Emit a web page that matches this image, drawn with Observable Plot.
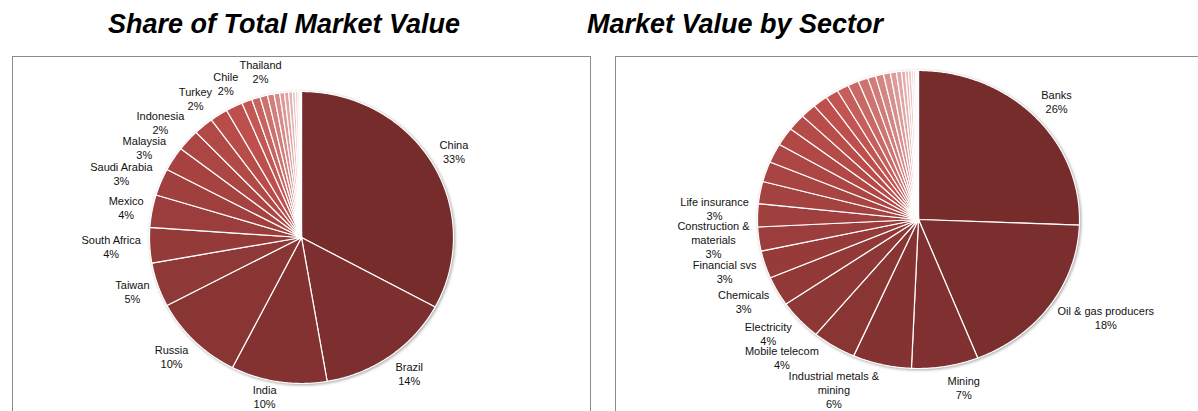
<!DOCTYPE html>
<html><head><meta charset="utf-8">
<script src="https://cdn.jsdelivr.net/npm/d3@7"></script>
<script src="https://cdn.jsdelivr.net/npm/@observablehq/plot@0.6"></script>
<style>
html,body{margin:0;padding:0;background:#fff;overflow:hidden;width:1198px;height:411px}
#root{position:relative;width:1198px;height:411px;overflow:hidden}
.title{position:absolute;top:11px;font:italic bold 27px "Liberation Sans",Arial,sans-serif;line-height:27px;color:#000;white-space:nowrap;transform:translateX(-50%)}
.panel{position:absolute;top:56px;height:420px;border:1px solid #8a8a8a;box-sizing:border-box;overflow:hidden;background:#fff}
.panel svg{position:absolute;left:0;top:0}
</style></head><body>
<div id="root">
  <div class="title" style="left:284px">Share of Total Market Value</div>
  <div class="title" style="left:735px">Market Value by Sector</div>
  <div class="panel" id="pL" style="left:12px;width:579px"></div>
  <div class="panel" id="pR" style="left:615px;width:600px"></div>
</div>
<script>
// ---- data: share of total market value by country (%), labelled slices ----
const countries = ["China","Brazil","India","Russia","Taiwan","South Africa","Mexico","Saudi Arabia","Malaysia","Indonesia","Turkey","Chile","Thailand"];
const countryShares = [32.9,14.4,10.2,9.8,4.9,3.9,3.6,3.0,2.7,2.4,2.1,1.9,1.8];
// unlabelled smaller markets
const countryTailShares = [1.1,0.9,0.8,0.7,0.6,0.5,0.45,0.4,0.3,0.25,0.2,0.1,0.1];

// ---- data: market value by sector (%), labelled slices ----
const sectors = ["Banks","Oil & gas producers","Mining","Industrial metals & mining","Mobile telecom","Electricity","Chemicals","Financial svs","Construction & materials","Life insurance"];
const sectorShares = [25.6,18.4,6.7,5.9,4.4,4.4,3.2,3.0,2.6,2.5];
// unlabelled smaller sectors
const sectorTailShares = [2.4,2.2,2.1,2.0,1.8,1.6,1.5,1.3,1.2,1.1,1.0,0.8,0.8,0.7,0.6,0.5,0.4,0.3,0.3,0.2,0.2,0.1,0.1,0.1];

const FONT = '"Liberation Sans", Arial, sans-serif';
const canvas = document.createElement("canvas");
const ctx = canvas.getContext("2d");
ctx.font = "11px " + FONT;
const measure = s => ctx.measureText(s).width;
const LINE = 14;

function wrap(text, maxW) {
  const words = text.split(" ");
  const lines = [];
  let cur = "";
  for (const w of words) {
    const t = cur ? cur + " " + w : w;
    if (cur && measure(t) > maxW) { lines.push(cur); cur = w; } else cur = t;
  }
  if (cur) lines.push(cur);
  return lines;
}

function colorAt(t) {
  return t < 0.5 ? d3.interpolateRgb("#772c2c", "#c0504d")(t / 0.5)
                 : d3.interpolateRgb("#c0504d", "#fdf3f3")((t - 0.5) / 0.5);
}

function placeBox(theta, w, h, g) {
  const s = Math.sin(theta), c = Math.cos(theta);
  const ax = g.cx + 1.05 * g.rx * s, ay = g.cy - 1.05 * g.ry * c;
  const bx = ax + Math.sign(s) * (w / 2 + 1);
  const by = Math.min(ay - c * h / 2, g.visibleBottom - h / 2 + 3);
  return {bx, by, x0: bx - w / 2, x1: bx + w / 2, y0: by - h / 2 + 2, y1: by + h / 2 - 2};
}
const overlaps = (a, b) => a.x0 < b.x1 && b.x0 < a.x1 && a.y0 < b.y1 && b.y0 < a.y1;

function pie(el, names, values, tail, geom) {
  const all = values.concat(tail);
  const total = d3.sum(all);
  const n = all.length;
  const rows = [];
  const pending = [];
  let acc = 0;
  all.forEach((v, i) => {
    const a0 = acc / total * 2 * Math.PI, a1 = (acc + v) / total * 2 * Math.PI;
    acc += v;
    const c = colorAt(i / (n - 1));
    const steps = Math.max(2, Math.ceil((a1 - a0) / (Math.PI / 360)));
    rows.push({k: i, x: 0, y: 0, c});
    for (let j = 0; j <= steps; j++) {
      const a = a0 + (a1 - a0) * j / steps;
      rows.push({k: i, x: Math.sin(a), y: Math.cos(a), c});
    }
    rows.push({k: i, x: 0, y: 0, c});
    if (i < names.length) {
      const lines = wrap(names[i], 105).concat([d3.format(".0%")(v / total)]);
      pending.push({theta: (a0 + a1) / 2, lines, w: d3.max(lines, measure), h: lines.length * LINE});
    }
  });
  // place labels outside the rim, nudging clockwise when they would collide
  const placed = [];
  const labels = [];
  for (const p of pending.sort((a, b) => a.theta - b.theta)) {
    let t = p.theta, box = placeBox(t, p.w, p.h, geom);
    while (placed.some(q => overlaps(box, q)) && t < p.theta + 0.6) {
      t += Math.PI / 360;
      box = placeBox(t, p.w, p.h, geom);
    }
    placed.push(box);
    labels.push({x: (box.bx - geom.cx) / geom.rx, y: (geom.cy - box.by) / geom.ry, text: p.lines.join("\n")});
  }
  const svg = Plot.plot({
    width: geom.w, height: geom.h, margin: 0,
    style: {fontFamily: FONT, background: "transparent"},
    x: {domain: [-1, 1], range: [geom.cx - geom.rx, geom.cx + geom.rx], axis: null},
    y: {domain: [-1, 1], range: [geom.cy + geom.ry, geom.cy - geom.ry], axis: null},
    color: {type: "identity"},
    marks: [
      Plot.line(rows, {x: "x", y: "y", z: "k", fill: "c", stroke: "#ffffff", strokeWidth: 1.2, curve: "linear"}),
      Plot.text(labels, {x: "x", y: "y", text: "text", fontSize: 11, fill: "#111", textAnchor: "middle", lineAnchor: "middle", lineHeight: LINE / 11})
    ]
  });
  const g = svg.querySelector('g[aria-label="line"]');
  if (g) g.style.filter = "drop-shadow(1.5px 1.5px 1.5px rgba(0,0,0,0.35))";
  el.appendChild(svg);
}

pie(document.getElementById("pL"), countries, countryShares, countryTailShares,
    {w: 577, h: 362, cx: 288, cy: 180, rx: 152, ry: 146, visibleBottom: 350});
pie(document.getElementById("pR"), sectors, sectorShares, sectorTailShares,
    {w: 598, h: 362, cx: 302, cy: 162, rx: 161, ry: 149, visibleBottom: 350});
</script>
</body></html>
